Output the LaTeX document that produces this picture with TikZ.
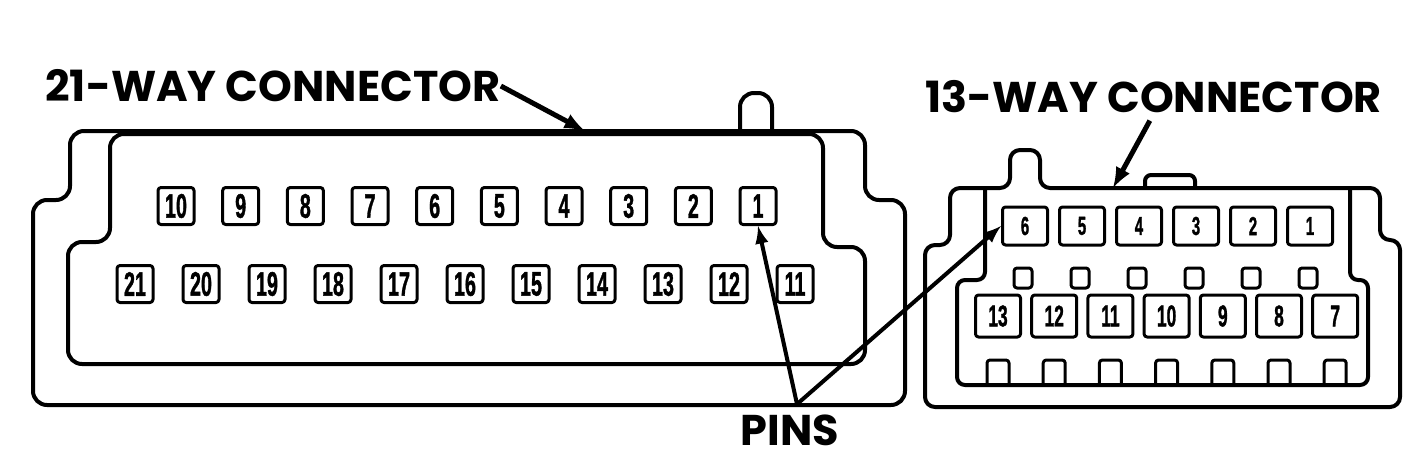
\documentclass[tikz,border=0pt]{standalone}
\usepackage{graphicx}
\usepackage{fontspec}
\setmainfont{Poppins}
\newfontfamily\pinfont{Liberation Sans}[BoldFeatures={FakeBold=1.5}]
\usetikzlibrary{arrows,positioning}

\newcommand{\pinno}[1]{\scalebox{0.58}[1]{\pinfont\bfseries #1}}

\begin{document}
\begin{tikzpicture}
[x=0.5pt,y=-0.5pt,line join=round]
\tikzset{
	shell/.style = {line width=2pt, rounded corners=7pt},
	pinA/.style = {draw, line width=1.5pt, rounded corners=1.5pt, minimum width=18pt, minimum height=18.5pt, inner sep=0, font=\fontsize{17}{17}\selectfont},
	pinB/.style = {pinA, minimum width=22.5pt, minimum height=19pt, font=\fontsize{13}{13}\selectfont},
	pinC/.style = {pinB, minimum height=21pt, font=\fontsize{15}{15}\selectfont},
	keyhole/.style = {line width=1.5pt, rounded corners=1.5pt},
	callout/.style = {font=\fontsize{21.5}{21.5}\selectfont\bfseries, inner sep=0},
	arr/.style = {-latex, line width=2.5pt}
}
\useasboundingbox (0,0) rectangle (1408,456);

% 21-way connector
\draw[shell] (33,300) -- (33,405) -- (905,405) -- (905,200) -- (865,200) -- (865,131) -- (70,131) -- (70,200) -- (33,200) -- cycle;
\draw[shell] (740,131) -- (740,93) -- (772,93) -- (772,131);
\draw[shell] (400,134) -- (110,134) -- (110,242) -- (68,242) -- (68,364) -- (865,364) -- (865,247) -- (823,247) -- (823,134) -- cycle;
\foreach \n in {1,...,10}
	\node[pinA] (a\n) at ({176+64.67*(10-\n)},206) {\pinno{\n}};
\foreach \n in {11,...,21}
	\node[pinA] (a\n) at ({135+66*(21-\n)},284) {\pinno{\n}};

% 13-way connector
\draw[shell, rounded corners=5pt] (925,300) -- (925,407) -- (1400,407) -- (1400,240) -- (1380,240) -- (1380,188) -- (1040,188) -- (1040,150) -- (1010,150) -- (1010,188) -- (950,188) -- (950,245) -- (925,245) -- cycle;
\draw[shell, rounded corners=3pt] (1145,188) -- (1145,175) -- (1195,175) -- (1195,188);
\draw[shell, rounded corners=4pt] (985,188) -- (985,280) -- (957,280) -- (957,385) -- (1368,385) -- (1368,280) -- (1350,280) -- (1350,188);
\foreach \n in {1,...,6}
	\node[pinB] (b\n) at ({1025+57*(6-\n)},226) {\pinno{\n}};
\foreach \n in {7,...,13}
	\node[pinC] (b\n) at ({998+56.2*(13-\n)},316) {\pinno{\n}};
\foreach \k in {0,...,5}
	\draw[keyhole] ({1014+57*\k},268) rectangle ++(18,20);
\foreach \k in {0,...,6}
	\draw[keyhole] ({987+56.2*\k},385) -- ++(0,-25) -- ++(22,0) -- ++(0,25);

% labels
\node[callout, anchor=west] (lab21) at (45,86) {21-WAY CONNECTOR};
\node[callout, anchor=west] (lab13) at (925,97) {13-WAY CONNECTOR};
\node[callout] (pins) at (790,430) {PINS};
\coordinate (c21) at (585,131);
\coordinate (c13) at (1113,188);

\draw[arr] (lab21.east) -- (c21);
\draw[arr, shorten <=4pt] (lab13.south) -- (c13);
\draw[arr, line width=2pt] ([xshift=3.5pt,yshift=5pt]pins.north) -- (a1.south);
\draw[arr, line width=2pt] ([xshift=3.5pt,yshift=5pt]pins.north) -- (b6.west);

\end{tikzpicture}
\end{document}
